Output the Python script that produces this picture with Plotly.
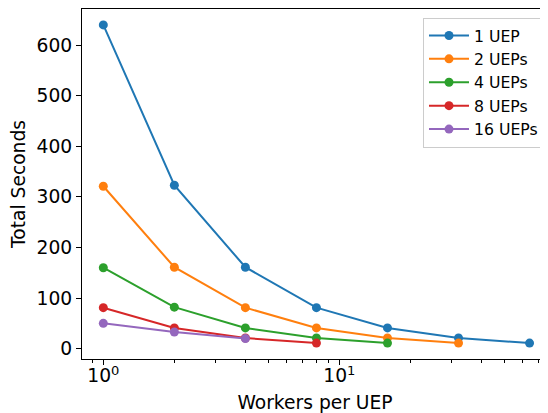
import plotly.graph_objects as go

workers = [1, 2, 4, 8, 16, 32, 64]
series_names = ["1 UEP", "2 UEPs", "4 UEPs", "8 UEPs", "16 UEPs"]
series_values = [
    [640, 323, 161, 81, 41, 21, 11],
    [321, 161, 81, 41, 21, 11],
    [160, 82, 41, 21, 11],
    [81, 41, 21, 11],
    [50, 33, 20],
]
colors = ["#1f77b4", "#ff7f0e", "#2ca02c", "#d62728", "#9467bd"]
x_major_vals = [1, 10]
x_major_text = ["10<sup>0</sup>", "10<sup>1</sup>"]
x_minor_vals = [0.9, 2, 3, 4, 5, 6, 7, 8, 9, 20, 30, 40, 50, 60, 70]
y_ticks = [0, 100, 200, 300, 400, 500, 600]

fig = go.Figure()
for name, vals, c in zip(series_names, series_values, colors):
    fig.add_trace(go.Scatter(
        x=workers[:len(vals)], y=vals, name=name, mode="lines+markers",
        line=dict(color=c, width=2), marker=dict(color=c, size=9),
        legendgroup=name,
    ))

font = "DejaVu Sans"
fs = 18.7
# the page body adds an 8px offset, so the figure is 540x405 and shifted
fig.update_layout(
    width=540, height=405,
    margin=dict(l=74, r=0, t=1, b=54),
    plot_bgcolor="white", paper_bgcolor="white",
    font=dict(family=font, color="black", size=fs),
    showlegend=True,
    legend=dict(
        x=0.9914, y=0.975, xanchor="right", yanchor="top",
        bgcolor="rgba(255,255,255,0.8)", bordercolor="#cccccc", borderwidth=1,
        font=dict(family=font, size=15.7, color="black"),
        tracegroupgap=0, itemwidth=40,
    ),
    xaxis=dict(
        type="log", range=[-0.0903, 1.8843],
        tickmode="array", tickvals=x_major_vals, ticktext=x_major_text,
        ticks="outside", ticklen=5, tickwidth=1, tickcolor="black",
        ticklabelstandoff=-5,
        showline=True, linecolor="black", linewidth=1, mirror=True,
        showgrid=False, zeroline=False,
        minor=dict(tickmode="array", tickvals=x_minor_vals, ticks="outside",
                   ticklen=3, tickwidth=1, tickcolor="black", showgrid=False),
        title=dict(text="Workers per UEP", font=dict(size=fs), standoff=11),
        tickfont=dict(size=fs),
    ),
    yaxis=dict(
        range=[-20.45, 671.45],
        tickmode="array", tickvals=y_ticks,
        ticks="outside", ticklen=5, tickwidth=1, tickcolor="black",
        showline=True, linecolor="black", linewidth=1, mirror=False,
        showgrid=False, zeroline=False,
        title=dict(text="Total Seconds", font=dict(size=fs), standoff=14),
        tickfont=dict(size=fs),
    ),
)

fig.write_html("out.html")
